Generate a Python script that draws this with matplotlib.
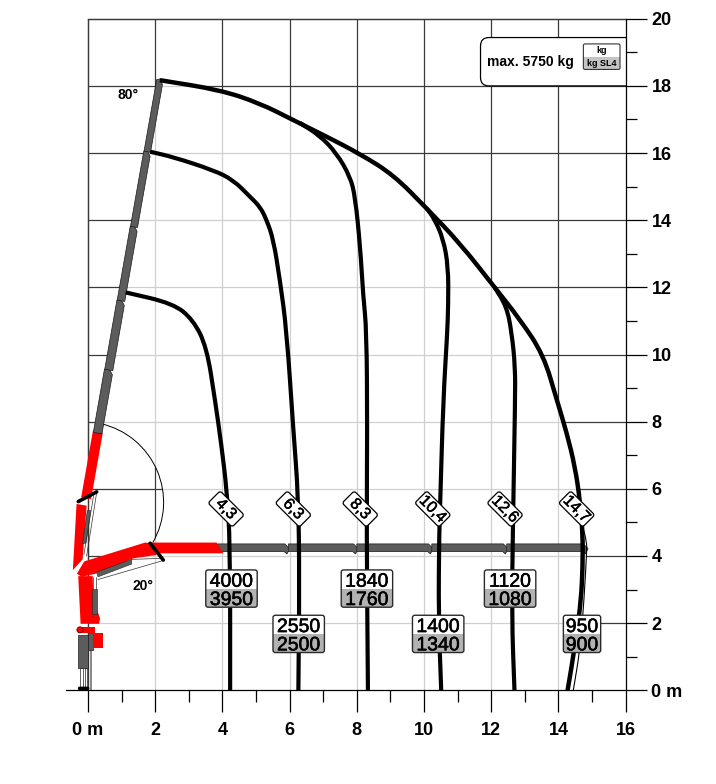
import numpy as np
import matplotlib
matplotlib.use('Agg')
import matplotlib.pyplot as plt
import matplotlib.patheffects as pe
from matplotlib.patches import Polygon, FancyBboxPatch, Rectangle, Arc, Circle, PathPatch
from matplotlib.path import Path
from matplotlib.collections import LineCollection
from matplotlib.transforms import Affine2D, ScaledTranslation

plt.rcParams['font.family'] = ['Liberation Sans', 'DejaVu Sans']

# ---------------- data ----------------
x_ticks = [0, 2, 4, 6, 8, 10, 12, 14, 16]
x_tick_labels = ['0 m', '2', '4', '6', '8', '10', '12', '14', '16']
y_ticks = [0, 2, 4, 6, 8, 10, 12, 14, 16, 18, 20]
y_tick_labels = ['0 m', '2', '4', '6', '8', '10', '12', '14', '16', '18', '20']

# outer working envelope (also the 14,7 m curve)
envelope_x = [2.14, 3.93, 5.12, 6.11, 7.10, 8.10, 9.09, 10.08, 11.07, 12.10, 12.85, 13.55,
              13.95, 14.25, 14.49, 14.64, 14.72, 14.72, 14.67, 14.54, 14.39, 14.27]
envelope_y = [18.17, 17.88, 17.48, 16.98, 16.49, 15.97, 15.35, 14.35, 13.31, 12.00, 11.05, 10.00,
              8.65, 7.65, 6.66, 5.65, 4.68, 3.68, 2.69, 1.70, 0.70, 0.00]
outline_x = [14.72, 14.84, 14.84, 14.76, 14.64, 14.44]
outline_y = [4.90, 4.40, 4.13, 2.69, 1.20, 0.00]

c43_x = [1.12, 2.54, 3.13, 3.53, 3.78, 3.97, 4.13, 4.23, 4.23]
c43_y = [11.85, 11.52, 11.03, 10.23, 8.65, 7.30, 5.96, 4.38, 0.00]
c63_x = [1.85, 2.54, 3.73, 4.32, 4.82, 5.12, 5.32, 5.52, 5.71, 5.91, 6.11, 6.26, 6.29, 6.26]
c63_y = [16.04, 15.88, 15.49, 15.20, 14.70, 14.40, 14.00, 13.41, 12.22, 10.73, 7.75, 5.77, 3.28, 0.00]
c83_x = [6.30, 6.90, 7.40, 7.80, 7.95, 8.10, 8.19, 8.29, 8.31, 8.29, 8.33]
c83_y = [16.90, 16.52, 15.99, 15.30, 14.70, 13.21, 11.72, 10.73, 7.75, 4.77, 0.00]
c104_x = [10.08, 10.30, 10.57, 10.72, 10.72, 10.69, 10.57, 10.48, 10.45, 10.43, 10.51]
c104_y = [14.35, 14.05, 13.45, 12.61, 11.50, 10.63, 8.65, 5.57, 4.68, 2.19, 0.00]
c126_x = [12.10, 12.46, 12.61, 12.71, 12.71, 12.64, 12.61, 12.69]
c126_y = [12.00, 11.42, 10.63, 9.64, 8.65, 4.68, 2.19, 0.00]

reach_labels = ['4,3', '6,3', '8,3', '10,4', '12,6', '14,7']
reach_label_x = [4.11, 6.11, 8.10, 10.26, 12.41, 14.54]
reach_label_y = [5.40, 5.40, 5.40, 5.40, 5.40, 5.40]

load_top = ['4000', '2550', '1840', '1400', '1120', '950']
load_bottom = ['3950', '2500', '1760', '1340', '1080', '900']
load_x = [4.27, 6.27, 8.30, 10.42, 12.56, 14.70]
load_y = [3.03, 1.68, 3.03, 1.68, 3.03, 1.68]

max_text = 'max. 5750 kg'
legend_top = 'kg'
legend_bottom = 'kg SL4'
angle_high = '80°'
angle_low = '20°'

# crane geometry (data units)
boom_tip = (2.14, 18.17)
boom_angle_deg = 80.0
boom_joints_y = [7.66, 9.54, 11.60, 13.80, 16.04, 18.17]
hboom_joints_x = [3.86, 5.96, 8.00, 10.23, 12.46, 14.84]
red_inner_boom = [(-0.34, 3.48), (-0.14, 3.83), (1.70, 4.40), (1.90, 4.38), (2.04, 4.03),
                  (1.35, 3.93), (0.26, 3.48), (-0.19, 3.38)]
red_outer_h = [(1.80, 4.40), (3.83, 4.40), (4.03, 4.08), (1.95, 4.08)]
red_column = [(-0.29, 3.40), (0.14, 3.40), (0.16, 2.70), (0.36, 2.14), (0.33, 1.98), (-0.22, 1.98)]
red_main_high = [(-0.34, 5.55), (-0.04, 5.50), (-0.16, 3.90), (-0.45, 3.58)]
arc_center = (-0.15, 5.60)
arc_radius = 2.40

# ---------------- figure ----------------
fig = plt.figure(figsize=(7.16, 7.84), dpi=100)
ax = fig.add_axes([0.0919, 0.1195, 0.7820, 0.8566])
ax.set_xlim(-0.66, 16)
ax.set_ylim(0, 20)

DARK = '#3a3a3a'
LIGHT = '#d0d0d0'


def grid_segments():
    segs = []
    for gx in range(0, 16, 2):
        segs.append([(gx, 0), (gx, 20)])
    for gy in range(2, 21, 2):
        segs.append([(0, gy), (16, gy)])
    return segs


def smooth_path(xs, ys):
    """Quadratic-Bezier path through the read points (drawn by matplotlib)."""
    pts = np.column_stack([xs, ys])
    verts = [pts[0]]
    codes = [Path.MOVETO]
    mids = (pts[:-1] + pts[1:]) / 2
    verts.append(mids[0])
    codes.append(Path.LINETO)
    for i in range(1, len(pts) - 1):
        verts += [pts[i], mids[i]]
        codes += [Path.CURVE3, Path.CURVE3]
    verts.append(pts[-1])
    codes.append(Path.LINETO)
    return Path(verts, codes)


dark_grid = LineCollection(grid_segments(), colors=DARK, linewidths=0.9, zorder=0.5)
dark_grid.set_clip_on(False)
ax.add_collection(dark_grid)

# working area (light grid inside)
c0 = (boom_tip[0] - (boom_tip[1] - 7.94) / np.tan(np.radians(boom_angle_deg)), 7.94)
work_pts = [c0, boom_tip] + list(zip(envelope_x, envelope_y))[1:16] + list(zip(outline_x, outline_y)) + [(0, 0), (0, 7.94)]
work_poly = Polygon(work_pts, closed=True, fc='white', ec='none', zorder=0.6)
ax.add_patch(work_poly)
light_grid = LineCollection(grid_segments(), colors=LIGHT, linewidths=0.9, zorder=0.7)
ax.add_collection(light_grid)
light_grid.set_clip_path(work_poly)

# dark region inside the slewing arc
arc_p = Path.arc(-30, 77)
av = arc_p.vertices * arc_radius + np.array(arc_center)
verts = list(av) + [(-0.3, 8.1), (-0.3, 3.8), (0.3, 3.9), tuple(av[0])]
codes = list(arc_p.codes) + [Path.LINETO, Path.LINETO, Path.LINETO, Path.CLOSEPOLY]
arc_region = PathPatch(Path(verts, codes), fc='white', ec='none', zorder=0.75)
ax.add_patch(arc_region)
dark_grid2 = LineCollection(grid_segments(), colors=DARK, linewidths=0.9, zorder=0.8)
ax.add_collection(dark_grid2)
dark_grid2.set_clip_path(arc_region)
ax.add_patch(Arc(arc_center, 2 * arc_radius, 2 * arc_radius, theta1=-30, theta2=77,
                 color='black', lw=0.7, zorder=2))

# left and top borders
ax.plot([0, 0], [0, 20], color=DARK, lw=0.9, zorder=0.9)
ax.plot([0, 16], [20, 20], color=DARK, lw=0.9, zorder=0.9, clip_on=False)

# ---------------- crane ----------------
GRAY = '#5c5c5c'
RED = '#ff0000'
u = np.array([np.cos(np.radians(boom_angle_deg)), np.sin(np.radians(boom_angle_deg))])
n = np.array([u[1], -u[0]])


def cpt(y):
    return np.array([boom_tip[0] - (boom_tip[1] - y) / np.tan(np.radians(boom_angle_deg)), y])


a, b = cpt(5.72), cpt(7.70)
hw = 0.15
ax.add_patch(Polygon([a - n * hw, a + n * hw, b + n * hw, b - n * hw], fc=RED, ec='none', zorder=2))
for i in range(len(boom_joints_y) - 1):
    a, b = cpt(boom_joints_y[i]), cpt(boom_joints_y[i + 1])
    hw = 0.13 - 0.008 * i
    pts = [a - n * hw, a + n * hw, b + n * hw - u * 0.12, b + u * 0.04, b - n * hw]
    ax.add_patch(Polygon(pts, fc=GRAY, ec='#1a1a1a', lw=0.5, zorder=2.1))

for i in range(len(hboom_joints_x) - 1):
    xa, xb = hboom_joints_x[i], hboom_joints_x[i + 1]
    pts = [(xa, 4.13), (xa, 4.36), (xb - 0.10, 4.36), (xb + 0.04, 4.22), (xb - 0.04, 4.06), (xb - 0.12, 4.13)]
    ax.add_patch(Polygon(pts, fc=GRAY, ec='#1a1a1a', lw=0.5, zorder=2.1))

for poly in (red_inner_boom, red_outer_h, red_column, red_main_high):
    ax.add_patch(Polygon(poly, fc=RED, ec='none', zorder=2.2))
ax.plot([-0.36, -0.13], [3.47, 3.86], color='white', lw=1.2, zorder=2.3)

ax.plot([-0.29, 0.26], [5.62, 5.91], color='black', lw=2.6, zorder=2.4, solid_capstyle='round')
ax.plot([1.85, 2.24], [4.38, 3.88], color='black', lw=2.6, zorder=2.4, solid_capstyle='round')

ax.add_patch(Polygon([(-0.02, 5.35), (0.08, 5.35), (-0.06, 4.38), (-0.16, 4.38)], fc=GRAY, ec='#222', lw=0.4, zorder=2.3))
ax.plot([0.26, -0.04], [5.90, 4.00], color='#333', lw=0.5, zorder=2.3)
ax.plot([0.18, -0.12], [5.88, 4.05], color='#333', lw=0.5, zorder=2.3)
ax.add_patch(Polygon([(0.26, 3.52), (1.30, 3.90), (1.30, 3.76), (0.30, 3.38)], fc=GRAY, ec='#222', lw=0.4, zorder=2.3))
ax.plot([1.30, 2.22], [3.90, 3.93], color='#333', lw=0.5, zorder=2.3)
ax.plot([0.30, 2.22], [3.30, 3.86], color='#333', lw=0.5, zorder=2.3)
ax.add_patch(Rectangle((0.12, 2.28), 0.14, 0.75, fc=GRAY, ec='#222', lw=0.4, zorder=2.3))
ax.plot([0.16, 0.16], [3.38, 2.28], color='#333', lw=0.5, zorder=2.25)
ax.plot([0.24, 0.24], [3.38, 2.28], color='#333', lw=0.5, zorder=2.25)

ax.add_patch(Rectangle((0.07, 0.0), 0.06, 1.25, fc='#8a8a8a', ec='none', zorder=2.2))
ax.add_patch(Rectangle((-0.24, 0.10), 0.08, 0.56, fc='white', ec='#222', lw=0.5, zorder=2.2))
ax.add_patch(Rectangle((-0.10, 0.10), 0.07, 0.56, fc='white', ec='#222', lw=0.5, zorder=2.2))
ax.add_patch(Rectangle((-0.29, 0.65), 0.30, 1.00, fc=GRAY, ec='#222', lw=0.5, zorder=2.3))
ax.add_patch(Rectangle((0.01, 1.20), 0.15, 0.50, fc=GRAY, ec='#222', lw=0.5, zorder=2.3))
ax.add_patch(Rectangle((-0.29, 1.70), 0.50, 0.19, fc=RED, ec='none', zorder=2.35))
ax.add_patch(Rectangle((0.16, 1.25), 0.30, 0.45, fc=RED, ec='none', zorder=2.35))
ax.add_patch(Circle((-0.24, 1.80), 0.09, fc=RED, ec='#700', lw=0.6, zorder=2.4))
ax.add_patch(FancyBboxPatch((-0.30, 0.0), 0.34, 0.11, boxstyle='round,pad=0,rounding_size=0.05',
                            fc='black', ec='none', zorder=2.4, clip_on=False))

# ---------------- load curves ----------------
LW = 3.0
for cx, cy in ((c43_x, c43_y), (c63_x, c63_y), (c83_x, c83_y), (c104_x, c104_y), (c126_x, c126_y)):
    ax.add_patch(PathPatch(smooth_path(cx, cy), fill=False, ec='black', lw=LW, zorder=3,
                           joinstyle='round', capstyle='butt'))
ax.add_patch(PathPatch(smooth_path(envelope_x, envelope_y), fill=False, ec='black', lw=LW + 0.2,
                       zorder=3, joinstyle='round', capstyle='butt'))
ax.add_patch(PathPatch(smooth_path(outline_x, outline_y), fill=False, ec='black', lw=0.8, zorder=3))

# ---------------- reach labels (diamonds) ----------------
dw, dh = 24.5, 12.3
for lx, ly, txt in zip(reach_label_x, reach_label_y, reach_labels):
    tr = Affine2D().scale(1 / 72.).rotate_deg(-45) + fig.dpi_scale_trans + ScaledTranslation(lx, ly, ax.transData)
    p = FancyBboxPatch((-dw / 2, -dh / 2), dw, dh, boxstyle='round,pad=0,rounding_size=1.8',
                       fc='white', ec='black', lw=0.9, zorder=5)
    p.set_transform(tr)
    ax.add_artist(p)
    ax.text(lx, ly, txt, rotation=-45, rotation_mode='anchor', ha='center', va='center',
            fontsize=11.5, zorder=5.5,
            path_effects=[pe.withStroke(linewidth=0.35, foreground='black')])

# ---------------- load boxes ----------------
bh = 1.11
num_fx = [pe.withStroke(linewidth=0.4, foreground='black')]
for bx, by, t1, t2 in zip(load_x, load_y, load_top, load_bottom):
    bw = 0.42 * len(t1) - 0.15
    x0, y0 = bx - bw / 2, by - bh / 2
    box = FancyBboxPatch((x0, y0), bw, bh, boxstyle='round,pad=0,rounding_size=0.07',
                         fc='white', ec='none', zorder=6)
    ax.add_patch(box)
    g = Rectangle((x0, y0), bw, bh / 2, fc='#b2b2b2', ec='none', zorder=6.1)
    ax.add_patch(g)
    g.set_clip_path(box)
    ax.add_patch(FancyBboxPatch((x0, y0), bw, bh, boxstyle='round,pad=0,rounding_size=0.07',
                                fc='none', ec='#2a2a2a', lw=1.0, zorder=6.3))
    ax.text(bx, by + 0.055, t1, ha='center', va='baseline', fontsize=14, zorder=6.5, path_effects=num_fx)
    ax.text(bx, by - 0.49, t2, ha='center', va='baseline', fontsize=14, zorder=6.5, path_effects=num_fx)

# ---------------- info box ----------------
ib = FancyBboxPatch((11.68, 18.0), 4.70, 1.44, boxstyle='round,pad=0,rounding_size=0.25',
                    fc='white', ec='black', lw=0.9, zorder=6)
ax.add_patch(ib)
ax.text(13.18, 18.72, max_text, ha='center', va='center', fontsize=10, fontweight='bold', zorder=7)
lb = FancyBboxPatch((14.74, 18.49), 1.09, 0.76, boxstyle='round,pad=0,rounding_size=0.05',
                    fc='white', ec='none', zorder=7)
ax.add_patch(lb)
lg = Rectangle((14.74, 18.49), 1.09, 0.38, fc='#c4c4c4', ec='none', zorder=7.1)
ax.add_patch(lg)
lg.set_clip_path(lb)
ax.add_patch(FancyBboxPatch((14.74, 18.49), 1.09, 0.76, boxstyle='round,pad=0,rounding_size=0.05',
                            fc='none', ec='#333', lw=0.8, zorder=7.2))
ax.text(15.285, 19.06, legend_top, ha='center', va='center', fontsize=6.5, fontweight='bold', zorder=7.5)
ax.text(15.285, 18.68, legend_bottom, ha='center', va='center', fontsize=6.5, fontweight='bold', zorder=7.5)

ax.text(1.20, 17.73, angle_high, ha='center', va='center', fontsize=10, fontweight='bold', zorder=7)
ax.text(1.65, 3.10, angle_low, ha='center', va='center', fontsize=10, fontweight='bold', zorder=7)

# ---------------- axes ----------------
for s in ('top', 'left'):
    ax.spines[s].set_visible(False)
ax.spines['bottom'].set_linewidth(0.9)
ax.spines['right'].set_linewidth(0.9)
ax.spines['bottom'].set_zorder(8)
ax.spines['right'].set_zorder(8)
ax.yaxis.tick_right()
ax.set_xticks(x_ticks)
ax.set_xticklabels(x_tick_labels, fontsize=13, fontweight='bold')
ax.set_xticks([1, 3, 5, 7, 9, 11, 13, 15], minor=True)
ax.set_yticks(y_ticks)
ax.set_yticklabels(y_tick_labels, fontsize=13, fontweight='bold')
ax.set_yticks([1, 3, 5, 7, 9, 11, 13, 15, 17, 19], minor=True)
ax.tick_params(axis='x', which='major', length=16, width=0.9, pad=7, direction='out')
ax.tick_params(axis='x', which='minor', length=8.6, width=0.9, direction='out')
ax.tick_params(axis='y', which='major', length=15, width=0.9, pad=3.5, direction='out')
ax.tick_params(axis='y', which='minor', length=8, width=0.9, direction='out')
ax.set_xlim(-0.66, 16)
ax.set_ylim(0, 20)
ax.set_facecolor('white')

fig.savefig('out.png', dpi=100)
